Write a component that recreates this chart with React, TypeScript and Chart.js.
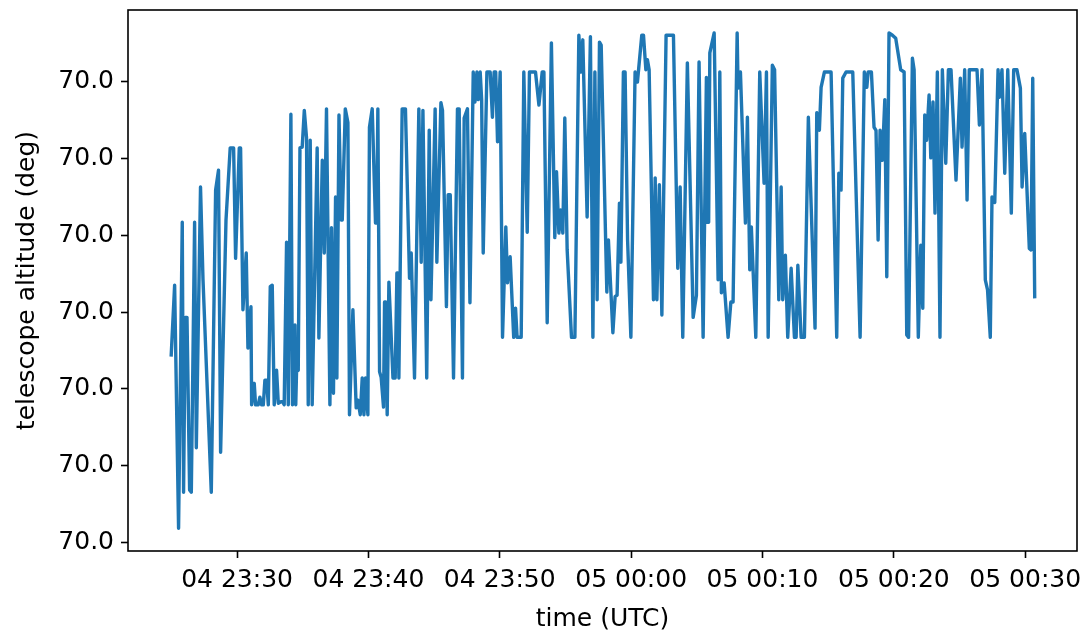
import React, { useEffect, useRef } from "react";
import { Chart, registerables } from "chart.js";

Chart.register(...registerables);

// time in minutes relative to 00:00 UTC on day 05 (negative = day 04)
const TIME_MIN = [
  -35.01, -34.75, -34.45, -34.17, -34.07, -33.94, -33.81, -33.61, -33.48, -33.23,
  -33.10, -32.78, -32.59, -31.96, -31.63, -31.41, -31.25, -30.84, -30.52, -30.26,
  -30.11, -29.83, -29.73, -29.55, -29.30, -29.17, -28.94, -28.89, -28.69, -28.59,
  -28.39, -28.26, -28.13, -28.00, -27.88, -27.75, -27.62, -27.47, -27.32, -27.17,
  -26.99, -26.86, -26.66, -26.54, -26.41, -26.23, -26.10, -25.90, -25.78, -25.59,
  -25.53, -25.47, -25.34, -25.21, -25.04, -24.88, -24.71, -24.58, -24.43, -24.28,
  -23.90, -23.77, -23.51, -23.36, -23.19, -22.93, -22.81, -22.66, -22.50, -22.40,
  -22.24, -22.07, -21.99, -21.76, -21.56, -21.44, -21.18, -20.93, -20.80, -20.62,
  -20.47, -20.34, -20.22, -20.04, -19.92, -19.71, -19.46, -19.37, -19.28, -19.15,
  -19.03, -18.85, -18.77, -18.68, -18.57, -18.44, -18.13, -17.96, -17.83, -17.75,
  -17.68, -17.43, -17.18, -16.87, -16.74, -16.49, -16.16, -15.98, -15.85, -15.56,
  -15.37, -15.24, -14.92, -14.79, -14.48, -14.36, -14.06, -13.93, -13.77, -13.52,
  -13.22, -13.09, -12.84, -12.71, -12.46, -12.27, -12.02, -11.89, -11.74, -11.64,
  -11.49, -11.38, -11.26, -10.98, -10.73, -10.56, -10.43, -10.31, -10.17, -9.97,
  -9.79, -9.54, -9.41, -9.21, -8.94, -8.80, -8.68, -8.37, -8.17, -7.91,
  -7.74, -7.28, -7.02, -6.77, -6.64, -6.39, -6.07, -5.81, -5.68, -5.50,
  -5.37, -5.20, -5.05, -4.87, -4.54, -4.28, -3.98, -3.81, -3.68, -3.35,
  -3.10, -2.91, -2.76, -2.59, -2.41, -2.28, -1.85, -1.73, -1.39, -1.22,
  -1.07, -0.89, -0.78, -0.59, -0.46, -0.27, -0.02, 0.30, 0.48, 0.81,
  0.94, 1.12, 1.24, 1.37, 1.70, 1.83, 1.96, 2.15, 2.34, 2.66,
  3.22, 3.55, 3.73, 3.93, 4.28, 4.72, 4.97, 5.17, 5.48, 5.73,
  5.81, 5.90, 5.99, 6.32, 6.62, 6.75, 6.87, 7.08, 7.38, 7.59,
  7.76, 8.07, 8.14, 8.32, 8.70, 8.85, 9.03, 9.15, 9.49, 9.79,
  10.12, 10.30, 10.43, 10.75, 10.92, 11.24, 11.42, 11.54, 11.74, 11.92,
  12.18, 12.43, 12.56, 12.69, 12.94, 13.19, 13.49, 14.00, 14.13, 14.33,
  14.46, 14.71, 15.22, 15.65, 15.81, 15.98, 16.11, 16.36, 16.87, 17.43,
  17.75, 17.94, 18.04, 18.29, 18.49, 18.64, 18.80, 18.95, 19.12, 19.31,
  19.46, 19.63, 19.89, 20.14, 20.52, 20.78, 20.98, 21.12, 21.41, 21.54,
  21.86, 22.05, 22.20, 22.35, 22.49, 22.68, 22.81, 22.98, 23.13, 23.31,
  23.51, 23.69, 23.95, 24.15, 24.35, 24.73, 25.06, 25.19, 25.39, 25.57,
  25.74, 26.33, 26.51, 26.71, 26.96, 27.13, 27.34, 27.47, 27.68, 27.93,
  28.03, 28.23, 28.44, 28.67, 28.94, 29.12, 29.37, 29.63, 29.76, 29.96,
  30.31, 30.44, 30.57, 30.72,
];

// altitude offset from 70.0 deg, in micro-degrees
const ALT_OFFSET = [
  2.44, 3.35, 0.18, 4.17, 0.65, 2.93, 2.93, 0.68, 0.65, 4.17,
  1.23, 4.63, 3.42, 0.65, 4.59, 4.85, 1.17, 4.20, 5.14, 5.14,
  3.70, 5.14, 5.14, 3.03, 3.77, 2.53, 3.07, 1.79, 2.07, 1.79,
  1.79, 1.89, 1.79, 1.79, 2.11, 2.11, 1.79, 3.33, 3.35, 1.79,
  2.24, 1.81, 1.83, 1.83, 1.79, 3.91, 1.79, 5.58, 1.79, 2.83,
  1.79, 2.22, 2.24, 5.14, 5.15, 5.63, 5.27, 1.79, 5.24, 1.79,
  5.14, 2.66, 4.98, 3.77, 5.65, 1.79, 4.10, 1.94, 4.50, 2.14,
  5.57, 4.20, 4.20, 5.65, 5.47, 1.66, 3.03, 1.75, 1.85, 1.66,
  2.14, 1.66, 2.14, 1.66, 5.41, 5.65, 4.16, 4.16, 5.65, 2.22,
  2.15, 1.76, 3.13, 3.13, 1.66, 3.39, 2.14, 2.14, 3.51, 3.51,
  2.14, 5.65, 5.65, 3.44, 3.77, 2.14, 5.65, 3.65, 5.63, 2.14,
  5.37, 3.16, 5.65, 3.65, 5.73, 5.63, 3.07, 4.53, 4.53, 2.14,
  5.65, 5.65, 2.14, 5.53, 5.65, 3.12, 6.13, 5.74, 6.13, 5.77,
  6.13, 5.77, 3.77, 6.13, 6.13, 5.54, 6.13, 6.13, 5.22, 6.13,
  2.67, 4.11, 3.38, 3.72, 2.67, 3.05, 2.67, 2.67, 6.13, 4.04,
  6.13, 6.13, 5.70, 6.13, 6.13, 2.86, 6.51, 3.97, 4.83, 4.03,
  4.33, 4.03, 5.53, 3.81, 2.67, 2.67, 6.61, 6.13, 6.55, 4.24,
  6.59, 2.67, 6.13, 3.16, 6.52, 6.48, 3.26, 3.94, 2.73, 3.20,
  3.22, 4.42, 3.65, 6.13, 6.13, 3.94, 2.67, 6.13, 6.00, 6.61,
  6.61, 6.16, 6.29, 6.16, 3.16, 4.75, 3.16, 4.66, 2.96, 6.61,
  6.61, 3.57, 4.63, 2.67, 6.25, 2.93, 3.22, 6.26, 2.67, 6.06,
  4.17, 4.17, 6.38, 6.64, 3.42, 6.13, 3.25, 3.38, 2.67, 3.13,
  3.13, 6.64, 5.92, 6.13, 4.16, 5.54, 3.55, 4.11, 2.67, 6.13,
  4.68, 6.13, 2.67, 6.22, 6.16, 3.16, 4.63, 3.16, 3.74, 2.67,
  3.57, 2.67, 2.67, 3.61, 2.67, 2.67, 5.54, 2.79, 5.60, 5.37,
  5.93, 6.13, 6.13, 2.67, 4.81, 4.59, 6.05, 6.13, 6.13, 2.67,
  6.13, 5.93, 6.13, 6.13, 5.41, 5.37, 3.94, 5.37, 4.98, 5.77,
  3.46, 6.64, 6.61, 6.57, 6.16, 6.13, 2.70, 2.67, 6.31, 6.16,
  2.67, 3.87, 3.05, 5.57, 5.24, 5.83, 5.01, 5.74, 4.29, 6.13,
  2.67, 6.16, 4.94, 6.16, 6.16, 4.72, 6.05, 5.15, 6.16, 4.46,
  6.16, 6.16, 5.44, 6.16, 3.42, 3.29, 2.67, 4.50, 4.43, 6.16,
  5.80, 6.16, 4.81, 6.16, 4.29, 6.16, 6.16, 5.92, 4.63, 5.33,
  3.83, 3.81, 6.05, 3.20,
];

const X_TICK_VALUES = [-30, -20, -10, 0, 10, 20, 30];
const X_TICK_LABELS = [
  "04 23:30",
  "04 23:40",
  "04 23:50",
  "05 00:00",
  "05 00:10",
  "05 00:20",
  "05 00:30",
];
const Y_TICK_VALUES = [0, 1, 2, 3, 4, 5, 6];
const ALT_BASE_DEG = 70.0;
const OFFSET_UNIT_DEG = 1e-6;

const X_MIN = -38.3;
const X_MAX = 33.94;
const Y_MIN = -0.117;
const Y_MAX = 6.939;

const framePlugin = {
  id: "frame",
  afterDraw(chart: any) {
    const { ctx, chartArea } = chart;
    const { left, top, right, bottom } = chartArea;
    ctx.save();
    ctx.strokeStyle = "#000";
    ctx.lineWidth = 1.6;
    ctx.strokeRect(left, top, right - left, bottom - top);
    ctx.restore();
  },
};

export default function App() {
  const ref = useRef<HTMLCanvasElement>(null);

  useEffect(() => {
    document.body.style.margin = "0";
    const canvas = ref.current!;
    const points = TIME_MIN.map((t, i) => ({ x: t, y: ALT_OFFSET[i] }));
    const font = { family: "'DejaVu Sans', sans-serif", size: 25 };
    const zeroPad = (s: any) => {
      s.paddingTop = 0;
      s.paddingBottom = 0;
      s.paddingLeft = 0;
      s.paddingRight = 0;
    };
    const chart = new Chart(canvas, {
      type: "line",
      data: {
        datasets: [
          {
            data: points,
            borderColor: "#1f77b4",
            borderWidth: 3.4,
            pointRadius: 0,
            tension: 0,
            fill: false,
            borderJoinStyle: "round",
            borderCapStyle: "square",
          } as any,
        ],
      },
      options: {
        responsive: false,
        animation: false,
        devicePixelRatio: 1,
        layout: { padding: { left: 0, right: 14, top: 10, bottom: 0 } },
        plugins: { legend: { display: false }, tooltip: { enabled: false } },
        scales: {
          x: {
            type: "linear",
            min: X_MIN,
            max: X_MAX,
            afterBuildTicks: (s: any) => {
              s.ticks = X_TICK_VALUES.map((v) => ({ value: v }));
            },
            afterFit: (s: any) => {
              s.height = 85;
              zeroPad(s);
            },
            ticks: {
              color: "#000",
              font,
              padding: 7,
              maxRotation: 0,
              autoSkip: false,
              callback: (v: any) => {
                const i = X_TICK_VALUES.indexOf(Number(v));
                return i >= 0 ? X_TICK_LABELS[i] : "";
              },
            },
            grid: {
              display: true,
              drawOnChartArea: false,
              drawTicks: true,
              tickLength: 7,
              tickWidth: 1.6,
              tickColor: "#000",
            },
            border: { display: false },
            title: {
              display: true,
              text: "time (UTC)",
              color: "#000",
              font,
              padding: { top: 0, bottom: 2 },
            },
          },
          y: {
            type: "linear",
            min: Y_MIN,
            max: Y_MAX,
            afterBuildTicks: (s: any) => {
              s.ticks = Y_TICK_VALUES.map((v) => ({ value: v }));
            },
            afterFit: (s: any) => {
              s.width = 128;
              zeroPad(s);
            },
            ticks: {
              color: "#000",
              font,
              padding: 7,
              callback: (v: any) =>
                (ALT_BASE_DEG + Number(v) * OFFSET_UNIT_DEG).toFixed(1),
            },
            grid: {
              display: true,
              drawOnChartArea: false,
              drawTicks: true,
              tickLength: 7,
              tickWidth: 1.6,
              tickColor: "#000",
            },
            border: { display: false },
            title: {
              display: true,
              text: "telescope altitude (deg)",
              color: "#000",
              font,
              padding: { top: 12, bottom: 0 },
            },
          },
        },
      },
      plugins: [framePlugin],
    });
    return () => chart.destroy();
  }, []);

  return (
    <div style={{ position: "absolute", left: 0, top: 0 }}>
      <canvas ref={ref} width={1091} height={636} style={{ display: "block" }} />
    </div>
  );
}
